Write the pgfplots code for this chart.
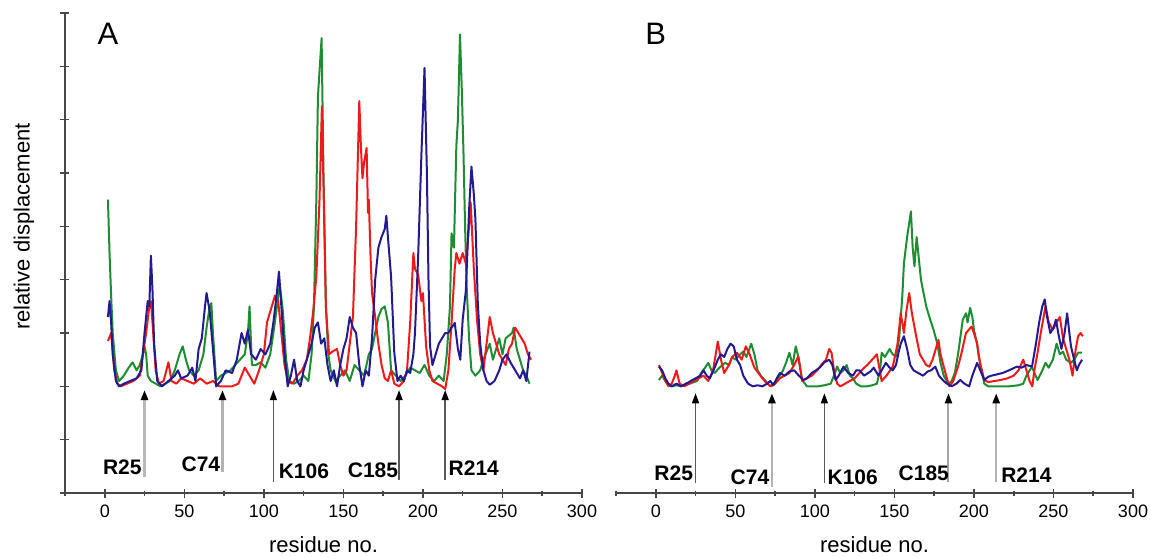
\documentclass[border=0pt]{standalone}
\usepackage{fontspec}
\setmainfont{Liberation Sans}
\usepackage{pgfplots}
\pgfplotsset{compat=1.18}
\usetikzlibrary{arrows.meta}

\definecolor{cred}{RGB}{240,25,25}
\definecolor{cgreen}{RGB}{30,140,50}
\definecolor{cblue}{RGB}{35,25,145}
\definecolor{axgray}{RGB}{70,70,70}

\tikzset{
  lab/.style={font=\bfseries\fontsize{10.5pt}{12pt}\selectfont, inner sep=0pt, anchor=center},
  arrmark/.style={-{Triangle[length=5pt,width=3.5pt,color=black]}},
}
\pgfplotsset{
  panel/.style={
    scale only axis, width=258.5pt, height=240pt,
    xmin=-25, xmax=300, ymin=0, ymax=9,
    axis line style={axgray, line width=0.9pt},
    every outer x axis line/.append style={-},
    every outer y axis line/.append style={-},
    every tick/.style={axgray, line width=0.8pt},
    tick align=outside, major tick length=4.5pt, minor tick length=2.5pt,
    xtick={0,50,...,300}, minor xtick={-25,25,...,275},
    /pgf/number format/assume math mode=true,
    tick label style={font=\fontsize{9pt}{10pt}\selectfont},
    xlabel={residue no.},
    xlabel style={font=\fontsize{11pt}{13pt}\selectfont, at={(axis description cs:0.5,0)}, anchor=center, yshift=-26pt},
    clip=false,
    every axis plot/.append style={line width=1pt, no marks, sharp plot, line join=round},
  },
}

\begin{document}
\begin{tikzpicture}
\useasboundingbox (-32.5pt,-32pt) rectangle (542.5pt,246.5pt);

% panel A
\begin{axis}[panel,
  axis x line=bottom, axis y line=left,
  every outer x axis line/.append style={-},
  every outer y axis line/.append style={-},
  ytick={0,1,...,9}, yticklabels={},
  ylabel={relative displacement},
  ylabel style={font=\fontsize{11pt}{13pt}\selectfont, at={(axis description cs:0,0.555)}, anchor=center, yshift=20.5pt},
]
\addplot[cgreen] coordinates {
(2,5.5) (3,4.5) (4,3.7) (5,3.0) (7,2.3) (9,2.1) (12,2.2) (15,2.35) (17.5,2.45) (20,2.3)
(22,2.4) (24,2.6) (25,2.75) (26,2.6) (27,2.2) (29,2.1) (32,2.05) (35,2.0) (38,2.05) (41,2.1)
(44,2.3) (47,2.6) (49,2.75) (51,2.5) (53,2.3) (56,2.2) (59,2.3) (62,2.6) (64,3.1) (66,3.5)
(67,3.56) (68,3.0) (70,2.1) (73,2.2) (76,2.25) (79,2.3) (82,2.4) (85,2.5) (88,2.6) (90,3.0)
(91,3.5) (92.5,2.4) (95,2.4) (98,2.45) (101,2.35) (104,2.6) (106,3.0) (108,3.44) (110,3.9) (112,3.4)
(114,2.5) (116,2.1) (119,2.05) (122,2.1) (125,2.2) (128,2.1) (130,2.6) (131.5,3.5) (133,5.5) (134,7.43)
(136.3,8.53) (137.5,6.0) (139,3.5) (140.5,2.6) (142,2.3) (145,2.1) (148,2.2) (151,2.3) (154,2.1) (157,2.4)
(160,2.3) (163,2.2) (166,2.6) (168,2.7) (170,3.0) (172,3.3) (174,3.45) (176,3.5) (178,3.2) (180,2.3)
(183,2.2) (186,2.1) (189,2.2) (192,2.35) (195,2.3) (198,2.25) (201,2.4) (204,2.2) (207,2.1) (210,2.2)
(213,2.1) (215,2.6) (217,3.5) (218,4.87) (219.5,4.6) (221,6.5) (222,7.0) (223.3,8.6) (224.5,7.5) (225.5,6.37)
(226.5,5.0) (227.5,3.87) (229,2.9) (230.5,2.3) (233,2.2) (236,2.3) (238,2.5) (240,2.65) (242,2.8) (244,2.5)
(246,2.7) (248,2.9) (250,2.6) (252,2.9) (254,2.95) (256,3.0) (257,3.1) (259,2.7) (261,2.5) (263,2.3)
(265,2.2) (267,2.05)
};
\addplot[cred] coordinates {
(2,2.85) (4,3.0) (6,2.3) (8,2.05) (10,2.0) (14,2.05) (18,2.1) (22,2.2) (24,2.6) (26,3.0)
(28,3.5) (29,3.6) (30,3.2) (32,2.3) (34,2.05) (37,2.1) (40,2.45) (42,2.1) (45,2.05) (48,2.15)
(52,2.1) (56,2.05) (60,2.15) (64,2.05) (68,2.1) (72,2.0) (76,2.0) (80,2.0) (84,2.05) (88,2.35)
(91,2.2) (94,2.05) (97,2.3) (100,2.6) (102,3.2) (105,3.5) (107,3.7) (109,3.6) (111,3.0) (113,2.4)
(115,2.1) (118,2.05) (121,2.2) (124,2.3) (127,2.5) (129,2.9) (131,3.4) (133,4.06) (135,5.5) (136.5,7.25)
(138,5.0) (139,3.5) (141,2.6) (143,2.65) (146,2.7) (148,2.4) (150,2.2) (152,2.3) (154,2.8) (156,3.3)
(158,5.0) (160,7.35) (161,6.5) (162,5.9) (163,6.2) (164.6,6.47) (165.5,5.25) (166,5.5) (167,4.5) (168,3.75)
(170,3.3) (172,2.8) (174,2.4) (176,2.15) (178,2.1) (180,2.3) (182,2.05) (185,2.0) (188,2.1) (190,2.3)
(192,3.2) (194,4.5) (195,4.2) (197,4.1) (199,3.6) (200,3.75) (202,2.75) (204,2.3) (206,2.1) (209,2.05)
(212,2.0) (214,1.95) (216,2.3) (218,3.2) (220,4.2) (221,4.5) (223,4.3) (225,4.5) (227,4.3) (229,5.0)
(230,5.45) (232,4.2) (234,3.25) (236,2.6) (238,2.3) (240,2.8) (242,3.3) (244,3.0) (246,2.8) (248,2.6)
(250,2.5) (252,2.4) (254,2.7) (256,2.8) (258,3.1) (260,3.0) (262,2.9) (264,2.8) (266,2.6) (268,2.5)
};
\addplot[cblue] coordinates {
(2,3.3) (3,3.6) (4,3.2) (5,2.6) (7,2.1) (9,2.0) (12,2.05) (16,2.1) (20,2.15) (23,2.3)
(25,3.0) (26,3.3) (27,3.6) (28,3.5) (29,4.45) (30,3.8) (31,2.8) (33,2.1) (36,2.0) (40,2.1)
(44,2.2) (46,2.3) (48,2.15) (52,2.2) (55,2.35) (57,2.1) (59,2.7) (61,2.9) (63,3.5) (64,3.75)
(66,3.4) (68,2.7) (70,2.0) (73,2.1) (76,2.3) (80,2.25) (83,2.5) (86,3.0) (88,2.8) (90,3.06)
(92,2.6) (95,2.5) (98,2.7) (101,2.6) (104,2.8) (106,3.2) (108,3.7) (109.5,4.15) (111,3.5) (113,2.6)
(115,2.0) (117,2.2) (119,2.5) (121,2.1) (123,2.0) (125,2.3) (128,2.6) (130,2.8) (132,3.1) (134,3.2)
(136,2.8) (138,2.9) (140,2.4) (142,2.1) (144,2.3) (146,2.0) (148,2.4) (150,2.7) (152,2.9) (154,3.3)
(156,3.1) (158,3.0) (160,2.4) (162,2.0) (164,2.3) (166,2.2) (168,2.9) (170,4.0) (172,4.6) (174,4.8)
(176,4.95) (177,5.2) (178,4.8) (180,4.05) (182,2.63) (184,2.1) (186,2.2) (188,2.1) (190,2.3) (192,2.25)
(194,2.6) (195,3.0) (197,4.43) (199,6.3) (201,7.97) (202.5,6.0) (203.5,4.0) (204.5,2.75) (206,2.4) (208,2.6)
(210,2.8) (212,2.9) (214,3.0) (216,3.0) (218,3.1) (220,3.19) (222,2.7) (223.5,2.5) (225,3.25) (227,3.8)
(229,5.3) (230.5,6.12) (232,5.6) (233,5.13) (234.5,3.56) (236,2.8) (238,2.3) (240,2.1) (242,2.03) (245,2.1)
(248,2.3) (250,2.5) (252.6,2.6) (255,2.45) (258,2.3) (261,2.15) (263,2.3) (265,2.1) (267,2.65)
};
\node[font=\fontsize{15.5pt}{18pt}\selectfont, inner sep=0pt] at (axis cs:2,8.61) {A};
\draw[arrmark, gray!55, line width=1.5pt] (axis cs:25,0.3) -- (axis cs:25,1.93);
\draw[arrmark, gray!60, line width=1.2pt] (axis cs:74,0.39) -- (axis cs:74,1.93);
\draw[arrmark, black!65, line width=0.6pt] (axis cs:106,0.2) -- (axis cs:106,1.93);
\draw[arrmark, black!65, line width=0.8pt] (axis cs:185,0.24) -- (axis cs:185,1.93);
\draw[arrmark, black!65, line width=0.8pt] (axis cs:214,0.24) -- (axis cs:214,1.93);
\node[lab] at (axis cs:11,0.49) {R25};
\node[lab] at (axis cs:60.4,0.54) {C74};
\node[lab] at (axis cs:125.2,0.41) {K106};
\node[lab] at (axis cs:168.6,0.43) {C185};
\node[lab] at (axis cs:232,0.47) {R214};
\end{axis}

% panel B
\begin{axis}[panel, at={(275.5pt,0pt)},
  axis x line=bottom, axis y line=none,
  every outer x axis line/.append style={-},
]
\addplot[cgreen] coordinates {
(2,2.12) (4,2.2) (6,2.1) (8,2.02) (10,2.0) (13,2.02) (16,2.0) (19,2.05) (21.5,2.05) (24,2.08)
(26,2.1) (28.5,2.25) (31,2.35) (33,2.44) (35,2.3) (37,2.25) (40,2.35) (43.6,2.44) (46,2.4) (48,2.55)
(50,2.5) (53,2.6) (55,2.65) (57,2.55) (60,2.8) (62,2.6) (64,2.3) (66,2.2) (69,2.1) (72,2.0)
(74,2.05) (77,2.15) (80,2.3) (82,2.45) (84,2.63) (86,2.4) (88,2.75) (90,2.5) (92,2.12) (95,2.0)
(98,2.0) (102,2.0) (106,2.02) (110,2.05) (112,2.2) (114,2.37) (116,2.25) (118,2.3) (120,2.4) (122,2.2)
(124,2.15) (126,2.05) (129,2.0) (132.6,2.0) (136,2.02) (139,2.05) (141,2.3) (142,2.63) (144,2.55) (147,2.7)
(149,2.6) (151,2.56) (153,2.9) (155,3.7) (156,4.31) (158,4.8) (160.4,5.28) (161.5,4.6) (162.6,4.25) (164,4.8)
(165,4.5) (166.7,4.0) (168,3.8) (170,3.5) (172,3.3) (174.6,3.06) (177,2.8) (179,2.44) (181,2.2) (184,2.05)
(186,2.1) (188,2.25) (190,2.6) (193,3.25) (195,3.37) (196,3.2) (197.6,3.47) (199,3.3) (200,3.06) (202,2.8)
(203,2.56) (205,2.3) (206.5,2.05) (209,2.0) (215,2.0) (222,2.0) (228,2.02) (231,2.05) (233,2.2) (236.5,2.37)
(238,2.25) (240,2.12) (243,2.3) (245,2.44) (247,2.35) (249.6,2.5) (252,2.8) (254,2.6) (256,2.65) (258,2.5)
(261,2.44) (263,2.5) (265.5,2.63) (268,2.63)
};
\addplot[cred] coordinates {
(2,2.4) (4,2.25) (6,2.1) (8,2.0) (10,2.05) (12,2.2) (13,2.3) (15,2.05) (18,2.0) (21,2.05)
(24,2.1) (27,2.15) (30,2.2) (33,2.1) (36,2.3) (39,2.84) (41,2.5) (43,2.25) (46,2.4) (48,2.55)
(51,2.63) (54,2.5) (56.6,2.75) (59,2.6) (62,2.35) (64.5,2.25) (67,2.15) (70,2.05) (72.5,2.0) (75,2.05)
(78,2.15) (81,2.2) (84,2.25) (87,2.4) (89.6,2.56) (92,2.1) (95,2.15) (98,2.2) (101.5,2.3) (104,2.4)
(107,2.5) (109,2.7) (110.5,2.63) (112,2.3) (114,2.05) (116,2.0) (119,2.05) (122,2.1) (125,2.15) (128,2.25)
(131,2.35) (133,2.4) (136,2.5) (139,2.6) (142,2.1) (145,2.2) (149,2.37) (152,2.8) (154,3.37) (156,3.0)
(157.5,3.4) (159.3,3.75) (161,3.37) (163.7,2.94) (166,2.6) (168,2.5) (170,2.4) (172,2.37) (174,2.5) (176,2.7)
(177.7,2.87) (179,2.6) (181,2.37) (183,2.15) (184.6,2.0) (187,2.1) (190,2.37) (192,2.6) (195,3.0) (198.5,3.12)
(200,3.0) (202,2.8) (204,2.4) (206.5,2.12) (209,2.08) (213,2.1) (217,2.12) (221,2.15) (225,2.2) (228,2.3)
(231,2.5) (233,2.3) (235,2.1) (236.7,2.0) (238,2.3) (240,2.63) (242,3.0) (245,3.5) (247,3.2) (249.6,3.06)
(252,3.2) (254,3.3) (256,2.9) (258,2.7) (260,2.5) (262,2.2) (264,2.7) (265.5,2.94) (267,3.0) (268.5,2.94)
};
\addplot[cblue] coordinates {
(2,2.37) (4,2.3) (6,2.15) (8,2.05) (10,2.0) (13,2.05) (16,2.0) (19,2.05) (22,2.1) (25,2.15)
(28,2.2) (30,2.3) (32,2.2) (34,2.15) (37,2.35) (39,2.5) (41,2.6) (43,2.55) (45,2.7) (47,2.8)
(49,2.75) (51,2.5) (53,2.4) (55,2.2) (58,2.05) (61,2.0) (64,2.02) (67,2.0) (70,2.05) (72,2.1)
(74,2.02) (76,2.15) (78,2.25) (81,2.2) (84,2.28) (87,2.3) (90,2.2) (92.6,2.12) (95,2.15) (98,2.25)
(100.6,2.3) (103,2.35) (106,2.45) (109,2.5) (111,2.4) (113,2.12) (115,2.2) (118,2.37) (121,2.25) (124,2.2)
(126,2.3) (128,2.3) (131,2.2) (135,2.28) (137,2.35) (140,2.2) (142,2.3) (144.6,2.44) (147,2.35) (149,2.3)
(151,2.4) (152.6,2.63) (154,2.8) (156,2.94) (158,2.7) (160,2.4) (162,2.3) (165,2.25) (168,2.2) (171,2.28)
(173,2.3) (175.7,2.37) (178,2.2) (181,2.1) (183,2.05) (186,2.0) (189,2.05) (191.4,2.12) (194,2.05) (197,2.0)
(199,2.2) (202,2.44) (204,2.3) (206.5,2.12) (209,2.18) (211,2.2) (214,2.22) (218,2.25) (222,2.3) (227,2.37)
(230,2.35) (233,2.4) (236.5,2.37) (239,2.8) (241,3.2) (243,3.5) (244.5,3.63) (246,3.3) (248,3.0) (250,3.1)
(251.6,3.25) (253,3.0) (255,2.7) (257,3.0) (258.6,3.37) (260,3.0) (261,2.75) (263,2.5) (264.7,2.3) (266,2.4)
(268,2.5)
};
\node[font=\fontsize{15.5pt}{18pt}\selectfont, inner sep=0pt] at (axis cs:0,8.61) {B};
\draw[arrmark, black!65, line width=0.6pt] (axis cs:25,0.18) -- (axis cs:25,1.87);
\draw[arrmark, gray!60, line width=1.4pt] (axis cs:73,0.11) -- (axis cs:73,1.87);
\draw[arrmark, black!65, line width=0.6pt] (axis cs:106,0.18) -- (axis cs:106,1.87);
\draw[arrmark, gray!70, line width=1.0pt] (axis cs:184,0.2) -- (axis cs:184,1.87);
\draw[arrmark, gray!60, line width=1.2pt] (axis cs:214,0.2) -- (axis cs:214,1.87);
\node[lab] at (axis cs:11.3,0.37) {R25};
\node[lab] at (axis cs:59.2,0.3) {C74};
\node[lab] at (axis cs:123.8,0.3) {K106};
\node[lab] at (axis cs:168.5,0.37) {C185};
\node[lab] at (axis cs:233,0.33) {R214};
\end{axis}
\end{tikzpicture}
\end{document}
